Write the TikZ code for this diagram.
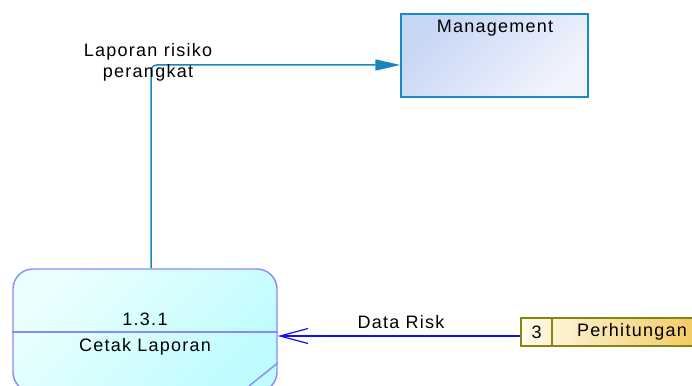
\documentclass[tikz,border=0pt]{standalone}
\usepackage{fontspec}
\setmainfont{Liberation Sans}[LetterSpace=7]
\usetikzlibrary{arrows.meta}
\definecolor{mgmtborder}{HTML}{1C87C9}
\definecolor{mgmtA}{HTML}{C6D6F4}
\definecolor{mgmtB}{HTML}{F2F4FD}
\definecolor{procborder}{HTML}{8888FF}
\definecolor{procA}{HTML}{ECFFFF}
\definecolor{procB}{HTML}{BEFCFF}
\definecolor{flowA}{HTML}{1A86C0}
\definecolor{flowB}{HTML}{1010F0}
\definecolor{storeborder}{HTML}{858510}
\definecolor{storeA}{HTML}{FFFCEC}
\definecolor{storeB}{HTML}{F0BE40}
\begin{document}
\begin{tikzpicture}[x=1pt,y=-1pt,
  font=\fontsize{18}{21}\selectfont,
  entitybox/.style={draw=mgmtborder, line width=1.3pt, minimum width=187pt, minimum height=83pt,
    top color=mgmtA, bottom color=mgmtB, shading angle=45, inner sep=0pt},
  procbox/.style={draw=procborder, line width=1.4pt, minimum width=264pt, minimum height=123pt,
    rounded corners=20pt, top color=procA, bottom color=procB, shading angle=45, inner sep=0pt},
  storebox/.style={draw=storeborder, line width=1.4pt, minimum width=220pt, minimum height=28pt,
    left color=storeA, right color=storeB, inner sep=0pt},
  txt/.style={inner sep=0pt, text=black},
  flowtop/.style={draw=flowA, line width=1.5pt, rounded corners=6pt,
    -{Triangle[length=25pt,width=11pt]}},
  flowdata/.style={draw=flowB, line width=1.2pt, -{Straight Barb[length=28pt,width=15pt]}}
]
\useasboundingbox (0,0) rectangle (692,385);
\clip (0,0) rectangle (692,385);
\node[entitybox] (mgmt) at (494.5,55.5) {};
\node[txt] (mgmttxt) at (495,28) {Management};
\node[procbox] (proc) at (145,330.5) {};
\draw[draw=procborder, line width=1.4pt] (proc.west |- 0,332) -- (proc.east |- 0,332);
\draw[draw=procborder, line width=1.4pt] (proc.east |- 0,363) -- (249,386);
\node[txt] (pid) at (145,319) {1.3.1};
\node[txt] (pname) at (145,347) {Cetak Laporan};
\node[storebox] (store) at (631,332) {};
\draw[draw=storeborder, line width=1.4pt] (552,318) -- (552,346);
\node[txt] (sid) at (536.5,332) {3};
\node[txt, anchor=west] (sname) at (577,332) {Perhitungan};
\draw[flowtop] ([xshift=6pt]proc.north) |- ([yshift=-9.5pt]mgmt.west);
\node[txt, align=center] (l1) at (148,62) {Laporan risiko\\perangkat};
\draw[flowdata] ([yshift=-4pt]store.west) -- ([yshift=-4pt]proc.east |- store.west);
\node[txt] (l2) at (401,322) {Data Risk};
\end{tikzpicture}
\end{document}
